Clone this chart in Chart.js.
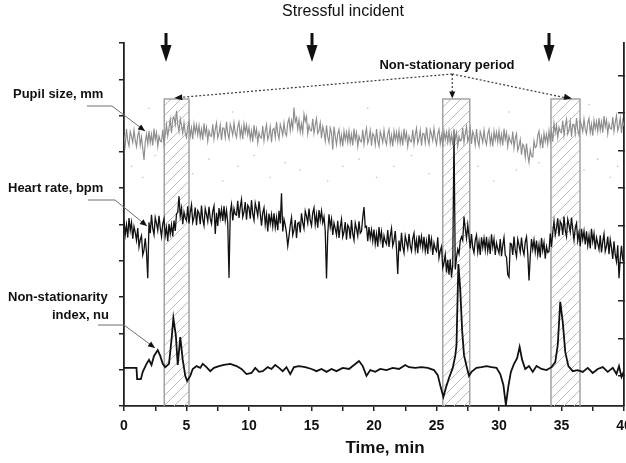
<!DOCTYPE html>
<html>
<head>
<meta charset="utf-8">
<script src="https://cdn.jsdelivr.net/npm/chart.js@4.4.1/dist/chart.umd.min.js"></script>
<style>
  html, body { margin: 0; padding: 0; background: #fff; }
  canvas { display: block; }
</style>
</head>
<body>
<canvas id="stressChart" width="626" height="463"></canvas>
<script>
"use strict";

// sampling step of the pupil and heart traces, minutes (one row = one minute)
const sampleStep = 0.1;

// pupil size trace (arbitrary vertical units, 0..100 over the panel)
const pupilSize = [
    74.5, 72.0, 76.3, 73.1, 71.6, 75.6, 74.3, 72.6, 76.0, 73.2,
    71.5, 74.5, 75.7, 71.8, 74.1, 71.0, 67.8, 72.8, 74.9, 72.2,
    75.8, 72.5, 74.8, 71.8, 76.4, 73.4, 75.3, 71.5, 74.3, 73.0,
    72.8, 76.1, 72.1, 74.7, 77.5, 74.4, 76.6, 78.9, 75.2, 79.1,
    79.5, 77.5, 81.3, 77.6, 75.6, 79.1, 77.3, 75.1, 78.0, 75.2,
    74.0, 77.0, 78.2, 74.3, 76.6, 73.5, 77.7, 75.3, 77.4, 74.7,
    77.3, 74.0, 76.3, 73.3, 77.9, 74.9, 76.8, 73.0, 75.8, 74.5,
    74.3, 77.6, 73.6, 76.2, 78.0, 73.9, 75.1, 77.4, 73.2, 76.6,
    76.5, 74.0, 78.3, 75.1, 73.6, 77.6, 76.3, 74.6, 78.0, 75.2,
    74.0, 77.0, 78.2, 74.3, 76.6, 73.5, 77.7, 75.3, 77.4, 74.7,
    76.8, 73.5, 75.8, 72.8, 77.4, 74.4, 76.3, 72.5, 75.3, 74.0,
    73.8, 77.1, 73.1, 75.7, 77.5, 73.4, 74.6, 76.9, 72.7, 76.1,
    76.5, 74.0, 78.3, 75.1, 73.6, 77.6, 76.3, 74.6, 78.0, 75.2,
    74.5, 78.0, 79.2, 75.8, 78.6, 76.5, 82.2, 78.3, 79.4, 76.2,
    78.8, 75.5, 77.8, 75.3, 80.4, 78.4, 79.8, 75.0, 77.3, 76.0,
    75.8, 79.1, 75.1, 77.4, 79.2, 75.1, 75.9, 78.0, 73.8, 77.0,
    75.5, 73.0, 77.3, 74.1, 72.6, 76.6, 75.3, 70.6, 77.0, 74.2,
    72.0, 75.0, 76.2, 72.3, 74.6, 71.5, 75.7, 73.3, 75.4, 72.7,
    75.8, 72.5, 74.8, 71.8, 76.4, 73.4, 75.3, 71.5, 74.3, 73.0,
    72.8, 76.1, 72.1, 74.7, 76.5, 72.4, 73.6, 75.9, 71.7, 75.1,
    74.5, 72.0, 76.3, 73.1, 71.6, 75.6, 74.3, 72.6, 76.0, 73.2,
    72.0, 75.0, 76.2, 72.3, 74.6, 71.5, 75.7, 73.3, 75.4, 72.7,
    75.8, 72.5, 74.8, 71.8, 76.4, 73.4, 75.3, 71.5, 74.3, 73.0,
    72.8, 76.1, 72.1, 74.7, 76.5, 72.4, 73.6, 75.9, 71.7, 75.1,
    75.0, 72.5, 76.8, 73.6, 72.1, 76.1, 74.8, 73.1, 76.5, 73.7,
    72.0, 75.0, 76.2, 72.3, 74.6, 71.5, 75.7, 73.3, 75.4, 72.7,
    75.8, 72.5, 74.8, 71.8, 76.4, 73.4, 75.3, 71.5, 74.3, 73.0,
    73.3, 76.6, 72.6, 75.2, 77.0, 72.9, 74.1, 76.4, 72.2, 75.6,
    74.5, 72.0, 76.3, 73.1, 71.6, 75.6, 74.3, 72.6, 76.0, 73.2,
    72.0, 75.0, 76.2, 72.3, 74.6, 71.5, 75.7, 73.3, 75.4, 72.7,
    75.8, 72.5, 74.8, 71.8, 76.4, 73.4, 75.3, 71.5, 74.3, 73.0,
    72.3, 75.6, 71.1, 73.7, 75.0, 70.4, 71.6, 73.4, 69.2, 72.1,
    71.5, 68.5, 72.3, 69.1, 67.1, 70.6, 68.8, 68.6, 73.0, 71.2,
    71.5, 74.5, 75.7, 71.8, 74.1, 71.0, 75.2, 72.8, 74.9, 72.2,
    75.8, 73.0, 75.8, 72.8, 77.9, 75.4, 77.3, 74.0, 76.8, 75.5,
    75.3, 78.6, 74.6, 77.2, 79.0, 74.9, 76.1, 78.4, 74.2, 77.6,
    77.5, 75.0, 79.3, 76.1, 74.6, 78.6, 77.3, 75.6, 79.0, 76.2,
    75.0, 78.0, 79.2, 75.3, 77.6, 74.5, 78.7, 76.3, 78.4, 75.7,
    79.3, 76.0, 78.3, 75.3, 79.9, 76.9, 78.8, 75.0, 77.8, 76.5,
    76.3, 79.6, 75.6, 78.2, 80.0, 75.9, 77.1, 79.4, 75.2, 78.6,
    77.0
];

// faint stray pupil samples scattered round the trace
const strayTime = [0.6, 1.5, 2.0, 2.5, 4.2, 5.5, 6.8, 7.9, 8.7, 9.1, 10.4, 11.7, 12.9, 14.1, 16.3, 17.5,
    18.8, 19.5, 20.2, 21.6, 23.0, 24.4, 28.3, 29.6, 30.8, 31.4, 33.2, 36.8, 37.2, 37.9, 38.9, 39.5];
const strayValue = [66, 63, 82, 69, 67, 64, 68, 62, 81, 66, 69, 63, 67, 65, 62, 66,
    68, 82, 63, 66, 69, 64, 66, 62, 81, 65, 67, 65, 83, 68, 63, 66];

// heart rate trace
const heartRate = [
    51.1, 47.2, 49.9, 46.4, 51.8, 48.3, 50.5, 46.1, 49.4, 47.8,
    45.6, 49.0, 43.8, 45.8, 46.9, 41.6, 43.0, 46.2, 42.3, 35.2,
    50.6, 47.6, 52.7, 48.9, 47.2, 51.9, 50.3, 48.4, 52.4, 49.1,
    46.7, 50.2, 51.6, 46.9, 49.2, 45.4, 50.2, 47.4, 49.9, 46.7,
    51.1, 48.2, 52.9, 53.4, 57.8, 52.3, 54.5, 50.1, 53.4, 51.8,
    51.1, 55.0, 50.3, 53.3, 55.4, 50.6, 52.0, 54.7, 49.8, 53.8,
    53.1, 50.1, 55.2, 51.4, 49.7, 54.4, 52.8, 50.9, 54.9, 51.6,
    50.2, 53.7, 55.1, 47.4, 53.2, 49.6, 54.5, 51.7, 54.2, 51.0,
    55.1, 51.2, 53.9, 50.4, 35.3, 53.3, 55.5, 51.1, 54.4, 52.8,
    52.6, 56.5, 51.8, 54.8, 56.9, 52.1, 53.5, 56.2, 51.3, 55.3,
    54.6, 51.6, 56.7, 52.9, 51.2, 55.9, 54.3, 52.4, 56.4, 53.1,
    49.7, 53.2, 54.6, 50.0, 52.7, 48.1, 53.0, 50.2, 52.7, 49.5,
    53.1, 49.2, 51.9, 48.4, 53.8, 50.3, 58.6, 48.1, 51.4, 49.8,
    47.6, 44.1, 46.8, 49.8, 51.9, 47.1, 48.5, 51.2, 46.3, 50.3,
    50.6, 47.8, 53.1, 50.5, 48.9, 53.7, 52.3, 50.4, 54.4, 51.1,
    49.7, 53.2, 54.6, 50.0, 52.7, 49.1, 54.0, 51.2, 53.7, 50.5,
    52.1, 48.2, 35.1, 47.4, 52.8, 49.3, 51.5, 47.1, 50.4, 48.8,
    47.1, 51.0, 46.3, 49.3, 51.4, 46.6, 48.0, 50.7, 45.8, 49.8,
    49.1, 46.1, 51.2, 47.4, 45.7, 50.4, 48.8, 46.9, 50.9, 47.6,
    48.1, 52.0, 54.8, 49.2, 49.5, 45.4, 49.3, 46.2, 48.5, 45.5,
    48.6, 44.7, 47.4, 43.9, 49.3, 45.8, 48.0, 43.6, 46.9, 45.3,
    44.6, 48.5, 43.8, 46.8, 48.9, 44.1, 45.5, 48.2, 43.3, 36.4,
    45.6, 42.6, 47.7, 43.9, 42.2, 46.9, 45.3, 43.4, 47.4, 44.1,
    42.7, 46.2, 47.6, 43.0, 45.7, 42.1, 47.0, 44.2, 46.7, 43.5,
    46.6, 42.7, 45.4, 41.9, 47.3, 43.8, 46.0, 41.6, 44.9, 43.3,
    42.6, 46.5, 40.8, 42.8, 43.9, 38.1, 39.5, 41.7, 36.8, 40.3,
    36.2, 40.4, 35.4, 38.9, 75.8, 37.6, 40.8, 43.2, 41.9, 45.5,
    46.6, 45.6, 52.2, 48.9, 46.2, 49.9, 46.8, 43.4, 47.4, 43.6,
    42.2, 45.7, 47.1, 42.5, 45.2, 41.6, 46.5, 43.7, 46.2, 43.0,
    46.6, 42.7, 45.4, 41.9, 47.3, 43.8, 46.0, 41.6, 44.9, 43.3,
    42.1, 46.0, 41.3, 44.3, 46.4, 41.6, 41.0, 36.2, 35.5, 44.8,
    44.6, 41.6, 46.7, 42.9, 41.2, 45.9, 44.3, 42.4, 46.4, 43.1,
    41.7, 45.2, 46.6, 42.0, 34.6, 41.1, 46.0, 43.2, 45.7, 42.5,
    45.6, 41.7, 44.4, 40.9, 46.3, 42.8, 45.0, 40.6, 43.9, 42.3,
    42.6, 47.5, 43.8, 47.8, 50.9, 47.1, 49.0, 51.7, 46.8, 50.8,
    50.1, 47.1, 52.2, 48.4, 46.7, 51.4, 49.8, 47.9, 51.9, 48.6,
    45.7, 49.0, 50.3, 45.6, 47.8, 44.0, 48.8, 45.9, 48.2, 44.5,
    48.1, 44.2, 46.9, 43.4, 48.8, 45.3, 47.5, 43.1, 46.4, 44.8,
    43.1, 47.0, 42.3, 45.3, 47.4, 42.6, 44.0, 46.7, 41.8, 45.8,
    43.6, 40.5, 45.4, 41.6, 39.8, 44.3, 35.2, 40.6, 44.1, 40.3,
    39.5
];

// non-stationarity index, irregular sample times
const indexTime = [
    0, 1.0, 1.05, 1.35, 1.5, 1.8, 2.0, 2.2, 2.4, 2.7, 2.9, 3.1, 3.3, 3.6, 3.8, 3.95, 4.15, 4.3, 4.5, 4.7, 4.9,
    5.05, 5.3, 5.5, 5.8, 6.1, 6.3, 6.6, 6.9, 7.2, 7.6, 8.0, 8.5, 9.0, 9.4, 9.8, 10.2, 10.5, 10.8, 11.1, 11.5,
    11.8, 12.1, 12.4, 12.7, 13.0, 13.3, 13.6, 14.0, 14.5, 15.0, 15.4, 15.8, 16.2, 16.6, 17.0, 17.5, 18.0, 18.4,
    18.8, 19.1, 19.4, 19.7, 20.1, 20.5, 21.0, 21.5, 22.0, 22.5, 22.8, 23.3, 23.8, 24.3, 24.8, 25.1, 25.35, 25.55,
    25.75, 26.0, 26.3, 26.5, 26.6, 26.75, 26.9, 27.05, 27.2, 27.4, 27.6, 27.8, 28.2, 28.6, 29.0, 29.4, 29.8,
    30.1, 30.35, 30.55, 30.75, 30.95, 31.2, 31.45, 31.65, 31.85, 32.1, 32.4, 32.7, 33.0, 33.4, 33.8, 34.2,
    34.5, 34.7, 34.9, 35.1, 35.3, 35.55, 35.9, 36.3, 36.7, 37.1, 37.5, 37.9, 38.3, 38.7, 39.1, 39.4, 39.6, 39.8, 40.0
];
const indexValue = [
    10.5, 10.5, 7.4, 7.4, 9.4, 11.6, 12.7, 11.3, 13.8, 15.4, 13.8, 11.6, 10.7, 11.6, 18.2, 24.2, 19.3, 11.3, 19.0, 12.7, 8.3,
    6.9, 8.3, 10.2, 11.0, 10.5, 11.6, 10.7, 9.6, 10.5, 11.0, 11.3, 11.6, 11.0, 10.2, 8.8, 9.1, 10.5, 9.4, 9.6, 10.7,
    10.2, 11.3, 10.5, 9.6, 10.7, 8.8, 10.7, 11.0, 10.7, 10.2, 9.6, 10.2, 9.4, 10.2, 9.6, 10.5, 10.2, 11.3,
    12.4, 11.0, 8.3, 9.9, 9.4, 10.2, 9.9, 10.5, 10.2, 11.3, 10.7, 10.5, 10.7, 10.5, 9.9, 8.5, 5.0, 2.5,
    5.0, 7.7, 10.5, 13.8, 16.8, 39.1, 32.0, 20.9, 14.0, 11.0, 8.3, 9.4, 10.5, 10.7, 11.0, 10.7, 10.5,
    8.8, 5.8, 0.3, 5.5, 9.4, 11.6, 13.2, 16.3, 12.7, 10.2, 11.0, 9.4, 11.0, 10.2, 9.9, 10.7,
    12.1, 16.8, 28.7, 23.1, 14.9, 11.0, 9.6, 9.9, 9.4, 10.5, 9.1, 10.2, 10.7, 9.4, 10.5, 8.8, 11.0, 8.0, 9.6
];

// stress incidents (arrows) and non-stationary periods (hatched bands), minutes
const stressTimes = [3.35, 15.0, 34.0];
const bandStart = [3.22, 25.5, 34.16];
const bandEnd = [5.2, 27.66, 36.48];
const bandTop = 84.6;

const FONT = '"Liberation Sans", Arial, Helvetica, sans-serif';

const pupilPoints = pupilSize.map((v, i) => ({ x: i * sampleStep, y: v }));
const heartPoints = heartRate.map((v, i) => ({ x: i * sampleStep, y: v }));
const indexPoints = indexTime.map((t, i) => ({ x: t, y: indexValue[i] }));
const strayPoints = strayTime.map((t, i) => ({ x: t, y: strayValue[i] }));

function hatchPattern(ctx) {
    const c = document.createElement('canvas');
    c.width = 10; c.height = 10;
    const g = c.getContext('2d');
    g.strokeStyle = '#bcbcbc';
    g.lineWidth = 1;
    g.beginPath();
    g.moveTo(0, 10); g.lineTo(10, 0);
    g.moveTo(-2, 2); g.lineTo(2, -2);
    g.moveTo(8, 12); g.lineTo(12, 8);
    g.stroke();
    return ctx.createPattern(c, 'repeat');
}

function arrowHead(ctx, x, y, angle, len, half) {
    ctx.save();
    ctx.translate(x, y);
    ctx.rotate(angle);
    ctx.beginPath();
    ctx.moveTo(0, 0);
    ctx.lineTo(-len, -half);
    ctx.lineTo(-len, half);
    ctx.closePath();
    ctx.fill();
    ctx.restore();
}

function leader(ctx, pts) {
    ctx.save();
    ctx.strokeStyle = '#6e6e6e';
    ctx.fillStyle = '#111';
    ctx.lineWidth = 1;
    ctx.beginPath();
    ctx.moveTo(pts[0][0], pts[0][1]);
    for (let i = 1; i < pts.length; i++) ctx.lineTo(pts[i][0], pts[i][1]);
    ctx.stroke();
    const a = pts[pts.length - 2], b = pts[pts.length - 1];
    arrowHead(ctx, b[0], b[1], Math.atan2(b[1] - a[1], b[0] - a[0]), 7, 3);
    ctx.restore();
}

const decorations = {
    id: 'decorations',
    beforeDatasetsDraw(chart) {
        const { ctx, scales: { x, y } } = chart;
        const pattern = hatchPattern(ctx);
        const top = y.getPixelForValue(bandTop);
        const bottom = y.getPixelForValue(0);
        ctx.save();
        bandStart.forEach((s, i) => {
            const x0 = x.getPixelForValue(s);
            const x1 = x.getPixelForValue(bandEnd[i]);
            ctx.fillStyle = pattern;
            ctx.fillRect(x0, top, x1 - x0, bottom - top);
            ctx.strokeStyle = '#a3a3a3';
            ctx.lineWidth = 1.5;
            ctx.beginPath();
            ctx.moveTo(x0, bottom); ctx.lineTo(x0, top); ctx.lineTo(x1, top); ctx.lineTo(x1, bottom);
            ctx.stroke();
        });
        ctx.restore();
    },
    afterDraw(chart) {
        const { ctx, scales: { x, y } } = chart;
        ctx.save();
        ctx.fillStyle = '#111';
        ctx.textBaseline = 'middle';

        // title
        ctx.font = '16px ' + FONT;
        ctx.textAlign = 'center';
        ctx.fillText('Stressful incident', 343, 12);

        // stress arrows
        stressTimes.forEach(t => {
            const px = Math.round(x.getPixelForValue(t));
            ctx.fillRect(px - 1.5, 33, 3, 15);
            ctx.beginPath();
            ctx.moveTo(px - 5.5, 45); ctx.lineTo(px + 5.5, 45); ctx.lineTo(px, 62);
            ctx.closePath();
            ctx.fill();
        });

        // non-stationary period label with dotted pointers
        ctx.font = 'bold 13px ' + FONT;
        ctx.fillText('Non-stationary period', 447, 65);
        const top = y.getPixelForValue(bandTop);
        const ox = x.getPixelForValue(bandStart[1]) + 9.5, oy = 74;
        const lx = x.getPixelForValue(bandStart[0]) + 10;
        const rx = x.getPixelForValue(bandStart[2]) + 21;
        ctx.strokeStyle = '#3a3a3a';
        ctx.lineWidth = 1.2;
        ctx.setLineDash([2, 2]);
        ctx.beginPath();
        ctx.moveTo(ox, oy); ctx.lineTo(lx + 6, top - 1.5);
        ctx.moveTo(ox, oy); ctx.lineTo(ox, top - 6);
        ctx.moveTo(ox, oy); ctx.lineTo(rx - 6, top - 1);
        ctx.stroke();
        ctx.setLineDash([]);
        arrowHead(ctx, lx, top - 1, Math.atan2(oy - top, ox - lx) + Math.PI, 8, 3);
        arrowHead(ctx, ox, top - 0.5, Math.PI / 2, 7, 3);
        arrowHead(ctx, rx, top - 0.5, Math.atan2(top - oy, rx - ox), 8, 3);

        // series labels
        ctx.fillStyle = '#111';
        ctx.font = 'bold 13px ' + FONT;
        ctx.textAlign = 'left';
        ctx.fillText('Pupil size, mm', 13, 94);
        ctx.fillText('Heart rate, bpm', 8, 188);
        ctx.fillText('Non-stationarity', 8, 297);
        ctx.textAlign = 'right';
        ctx.fillText('index, nu', 109, 315);
        leader(ctx, [[87, 106], [112, 106], [145, 131]]);
        leader(ctx, [[88, 200], [115, 200], [147, 226]]);
        leader(ctx, [[98, 325], [124, 325], [155, 348]]);

        // x axis title
        ctx.textAlign = 'center';
        ctx.font = 'bold 17px ' + FONT;
        ctx.fillText('Time, min', 385, 448);
        ctx.restore();
    }
};

const ctx = document.getElementById('stressChart').getContext('2d');
new Chart(ctx, {
    type: 'line',
    data: {
        datasets: [
            {
                label: 'stray pupil samples',
                data: strayPoints,
                showLine: false,
                pointRadius: 0.8,
                pointBorderWidth: 0,
                pointBackgroundColor: '#c4c4c4'
            },
            {
                label: 'Pupil size, mm',
                data: pupilPoints,
                borderColor: '#8d8d8d',
                borderWidth: 1.15,
                pointRadius: 0,
                tension: 0
            },
            {
                label: 'Heart rate, bpm',
                data: heartPoints,
                borderColor: '#111111',
                borderWidth: 1.3,
                pointRadius: 0,
                tension: 0
            },
            {
                label: 'Non-stationarity index, nu',
                data: indexPoints,
                borderColor: '#111111',
                borderWidth: 1.8,
                pointRadius: 0,
                tension: 0
            }
        ]
    },
    options: {
        responsive: false,
        animation: false,
        events: [],
        layout: { autoPadding: false, padding: { top: 43, left: 0, right: 0, bottom: 0 } },
        plugins: {
            legend: { display: false },
            tooltip: { enabled: false }
        },
        scales: {
            x: {
                type: 'linear',
                min: 0,
                max: 40,
                ticks: {
                    stepSize: 2.5,
                    autoSkip: false,
                    maxRotation: 0,
                    color: '#111',
                    padding: 7,
                    font: { family: FONT, weight: 'bold', size: 14 },
                    callback: v => (v % 5 === 0 ? v : '')
                },
                grid: { drawOnChartArea: false, tickLength: 5, color: '#222', lineWidth: 1.5 },
                border: { color: '#222', width: 1.8 },
                afterFit: s => { s.height = 57; s.paddingLeft = 0; s.paddingRight = 0; }
            },
            y: {
                min: 0,
                max: 100,
                ticks: { stepSize: 10, display: false },
                grid: { drawOnChartArea: false, tickLength: 5, color: '#222', lineWidth: 1.5 },
                border: { color: '#222', width: 1.8 },
                afterFit: s => { s.width = 124; }
            },
            y2: {
                display: true,
                position: 'right',
                min: 0.2,
                max: 9.86,
                afterBuildTicks: s => { s.ticks = [1, 2, 3, 4, 5, 6, 7, 8, 9].map(v => ({ value: v })); },
                ticks: { display: false },
                grid: { drawOnChartArea: false, tickLength: -6, color: '#222', lineWidth: 1.5 },
                border: { color: '#222', width: 1.8 },
                afterFit: s => { s.width = 2; }
            }
        }
    },
    plugins: [decorations]
});
</script>
</body>
</html>
